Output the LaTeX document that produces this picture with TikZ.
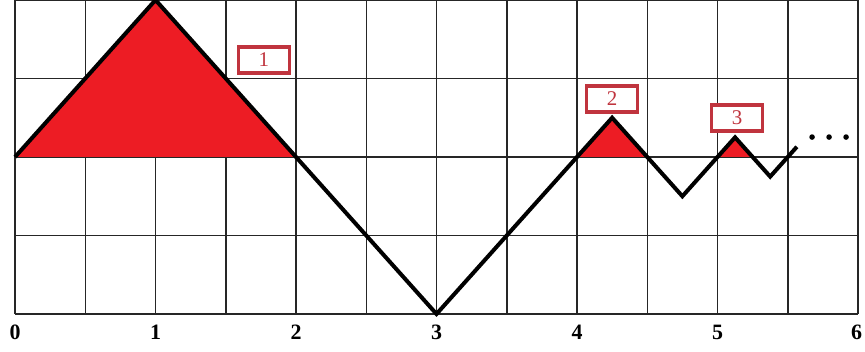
\documentclass[tikz,border=0pt]{standalone}
\usepackage{fontspec}
\setmainfont{Liberation Serif}
\definecolor{paintred}{RGB}{237,28,36}
\definecolor{boxred}{RGB}{192,52,62}
\begin{document}
\begin{tikzpicture}[x=140.5bp,y=157bp,
  gridline/.style={line width=1.5bp,black!85},
  curve/.style={line width=4bp,black,line join=miter},
  area/.style={fill=paintred},
  tag/.style={draw=boxred,line width=3.2bp,fill=white,text=boxred,minimum width=51bp,minimum height=26bp,inner sep=0pt,font=\fontsize{21}{21}\selectfont},
  axlabel/.style={font=\fontsize{22}{22}\selectfont\bfseries,inner sep=0pt}]
\useasboundingbox[fill=white] (-0.1068,-1.242) rectangle (6.0498,1);
% grid
\foreach \i in {0,0.5,...,6} \draw[gridline] (\i,-1) -- (\i,1);
\foreach \j in {-1,-0.5,0,0.5,1} \draw[gridline] (0,\j) -- (6,\j);
% red areas
\fill[area] (0,0) -- (1,1) -- (2,0) -- cycle;
\fill[area] (4,0) -- (4.25,0.25) -- (4.5,0) -- cycle;
\fill[area] (5,0) -- (5.125,0.125) -- (5.25,0) -- cycle;
% curve
\coordinate (p0) at (0,0);
\coordinate (p1) at (1,1);
\coordinate (p2) at (3,-1);
\coordinate (p3) at (4.25,0.25);
\coordinate (p4) at (4.75,-0.25);
\coordinate (p5) at (5.125,0.125);
\coordinate (p6) at (5.375,-0.125);
\coordinate (p7) at (5.565,0.065);
\draw[curve] (p0) -- (p1) -- (p2) -- (p3) -- (p4) -- (p5) -- (p6) -- (p7);
% dots
\foreach \d in {5.673,5.794,5.915} \fill (\d,0.127) circle (2.8bp);
% tags
\node[tag] (t1) at (1.772,0.618) {1};
\node[tag] (t2) at (4.249,0.369) {2};
\node[tag] (t3) at (5.139,0.248) {3};
% axis labels
\foreach \k in {0,...,5} \node[axlabel] (a\k) at (\k,-1.115) {\k};
\node[axlabel] (a6) at (5.99,-1.115) {6};
\end{tikzpicture}
\end{document}
